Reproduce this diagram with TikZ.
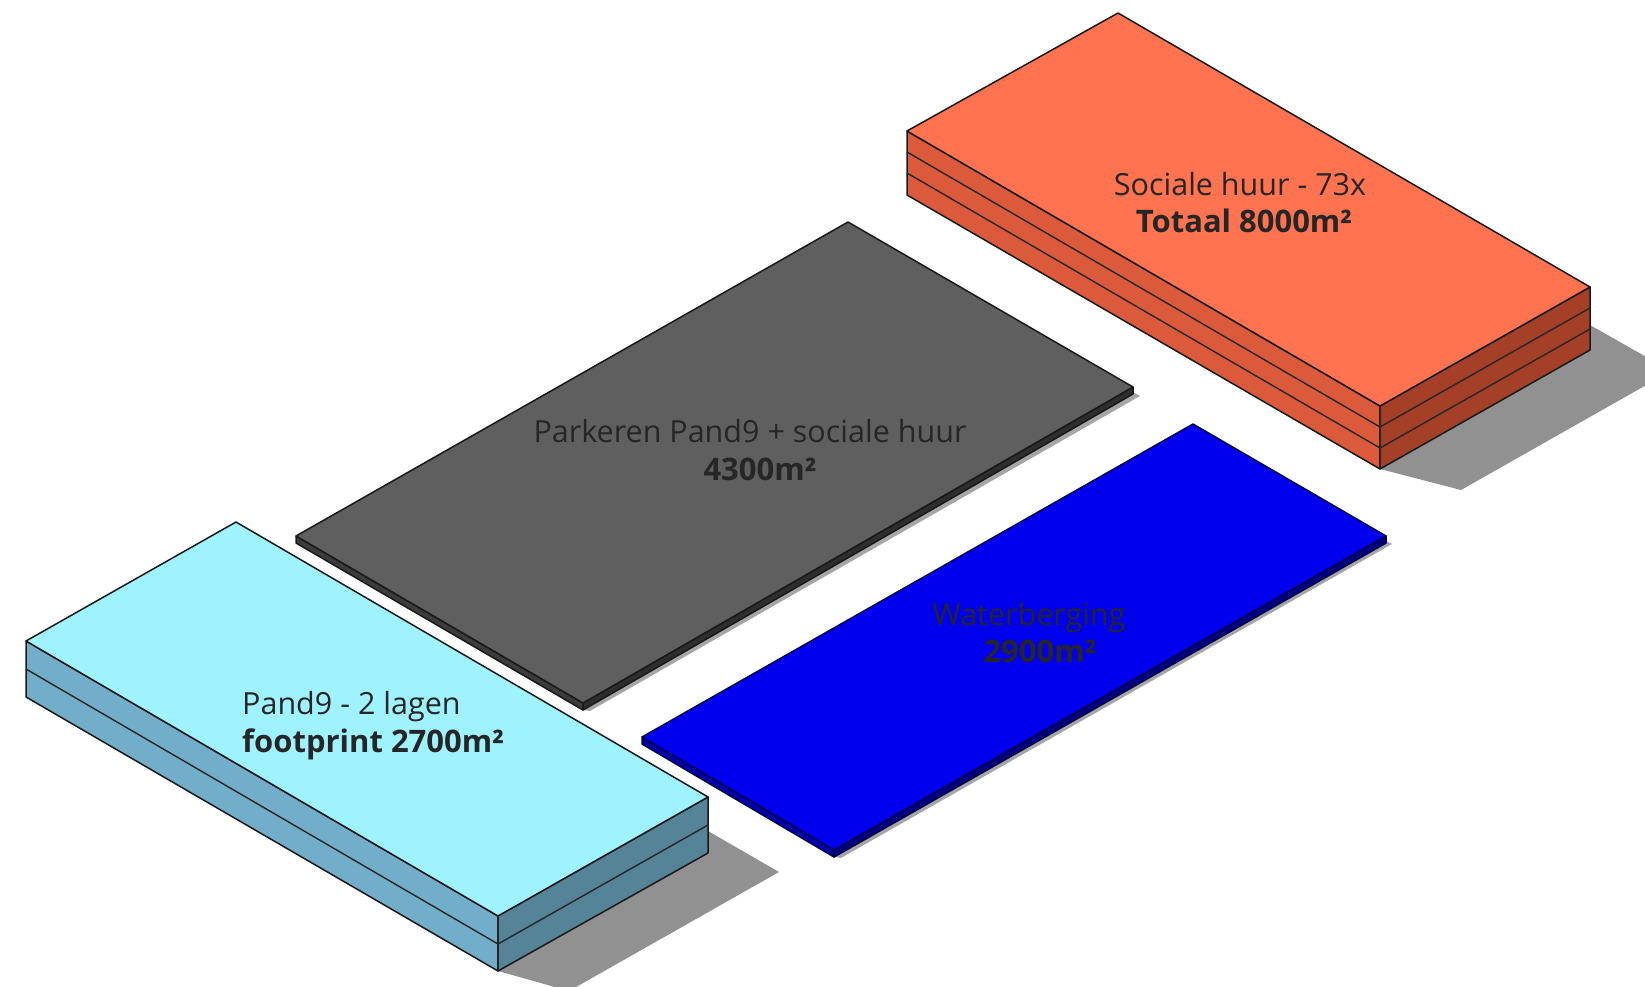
\documentclass[tikz,border=0pt]{standalone}
\usepackage{fontspec}
\setmainfont{Open Sans}
\usepackage{tikz}

\begin{document}
\begin{tikzpicture}[
		x=1pt, y=-1pt,
		% Faces of the volumes
		face/.style={
			fill=#1,
			draw=black!90,
			line width=1.5pt,
			line join=round
		},
		layerline/.style={
			draw=black!85,
			line width=1.4pt
		},
		shadow/.style={
			fill=black!43,
			draw=none
		},
		thinshadow/.style={
			fill=black!35,
			draw=none
		},
		% Labels on the roofs
		plainlabel/.style={
			font=\fontsize{30.5}{36}\selectfont,
			text=black!85,
			anchor=base,
			inner sep=0pt
		},
		arealabel/.style={
			font=\fontsize{31}{36}\selectfont\bfseries,
			text=black!85,
			anchor=base,
			inner sep=0pt
		}
		]
		\useasboundingbox (0,0) rectangle (1645,987);
		\clip (0,0) rectangle (1645,987);
		
		\definecolor{orangetop}{HTML}{FF7350}
		\definecolor{orangeleft}{HTML}{DC5A3C}
		\definecolor{orangeright}{HTML}{A54028}
		\definecolor{cyantop}{HTML}{9FF2FF}
		\definecolor{cyanleft}{HTML}{72AECA}
		\definecolor{cyanright}{HTML}{558398}
		\definecolor{greytop}{HTML}{5F5F5F}
		\definecolor{greyleft}{HTML}{3C3C3C}
		\definecolor{greyright}{HTML}{2E2E2E}
		\definecolor{bluetop}{HTML}{0000EE}
		\definecolor{blueleft}{HTML}{0000AA}
		\definecolor{blueright}{HTML}{000080}
		
		% --- SHADOWS ---
		\fill[shadow] (1590,325) -- (1671,371) -- (1461,490) -- (1380,469) -- cycle;
		\fill[shadow] (708,831) -- (779,872) -- (569,991) -- (498,971) -- cycle;
		\fill[thinshadow] (1133,392) -- (1140,396) -- (590,711) -- (583,710) -- cycle;
		\fill[thinshadow] (1386,541) -- (1392,544) -- (841,858) -- (834,857) -- cycle;
		
		% --- SOCIALE HUUR ---
		\draw[face=orangeleft] (907,131) -- (1380,406) -- (1380,469) -- (907,195) -- cycle;
		\draw[face=orangeright] (1380,406) -- (1590,287) -- (1590,350) -- (1380,469) -- cycle;
		\draw[face=orangetop] (1118,13) -- (1590,287) -- (1380,406) -- (907,131) -- cycle;
		\foreach \layer in {21,42}
			\draw[layerline] (907,131+\layer) -- (1380,406+\layer) -- (1590,287+\layer);
		\draw[layerline] (1380,406) -- (1380,469);
		
		% --- PAND9 ---
		\draw[face=cyanleft] (26,641) -- (498,916) -- (498,971) -- (26,697) -- cycle;
		\draw[face=cyanright] (498,916) -- (708,797) -- (708,853) -- (498,971) -- cycle;
		\draw[face=cyantop] (236,522) -- (708,797) -- (498,916) -- (26,641) -- cycle;
		\draw[layerline] (26,669) -- (498,944) -- (708,825);
		\draw[layerline] (498,916) -- (498,971);
		
		% --- PARKEREN ---
		\draw[face=greyleft] (296,536) -- (583,703) -- (583,710) -- (296,543) -- cycle;
		\draw[face=greyright] (583,703) -- (1133,387) -- (1133,394) -- (583,710) -- cycle;
		\draw[face=greytop] (848,222) -- (1133,387) -- (583,703) -- (296,536) -- cycle;
		
		% --- WATERBERGING ---
		\draw[face=blueleft, draw=black!70!blue] (642,737) -- (834,850) -- (834,857) -- (642,744) -- cycle;
		\draw[face=blueright, draw=black!70!blue] (834,850) -- (1386,536) -- (1386,543) -- (834,857) -- cycle;
		\draw[face=bluetop, draw=black!70!blue] (1193,424) -- (1386,536) -- (834,850) -- (642,737) -- cycle;
		
		% --- LABELS ---
		\node[plainlabel] (sociale) at (1240,195) {Sociale huur - 73x};
		\node[arealabel] (socialearea) at (1244,232) {Totaal 8000m²};
		
		\node[plainlabel] (parkeren) at (750,442) {Parkeren Pand9 + sociale huur};
		\node[arealabel] (parkerenarea) at (760,480) {4300m²};
		
		\node[plainlabel] (water) at (1029,625) {Waterberging};
		\node[arealabel] (waterarea) at (1040,662) {2900m²};
		
		\node[plainlabel, anchor=base west] (pand) at (242,714) {Pand9 - 2 lagen};
		\node[arealabel, anchor=base west] (pandarea) at (242,752) {footprint 2700m²};
		
	\end{tikzpicture}
\end{document}
